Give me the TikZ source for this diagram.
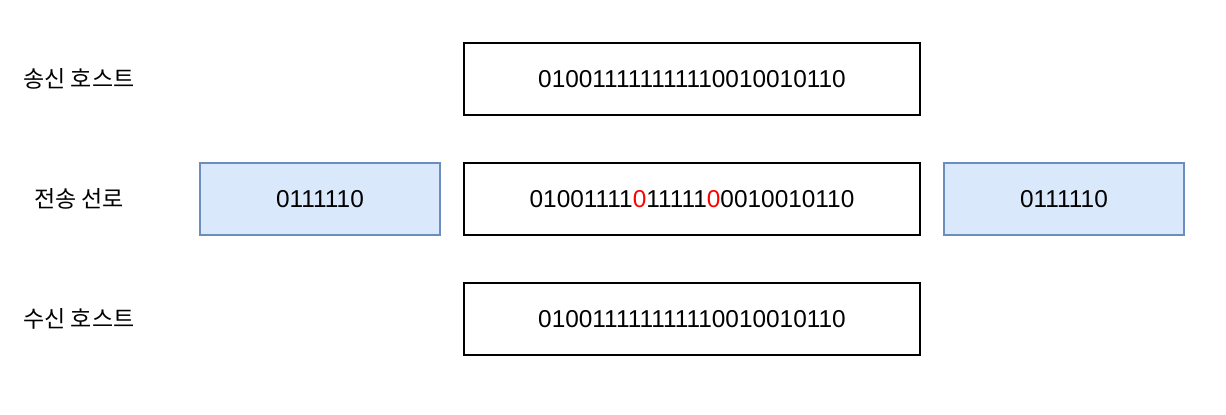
\documentclass[tikz,border=0pt]{standalone}
\usepackage{fontspec}
\setmainfont{Liberation Sans}
\newfontfamily\krfont{Noto Sans CJK KR}
\usepackage{xcolor}
\usetikzlibrary{positioning}
\definecolor{FlagFill}{HTML}{DAE8FC}
\definecolor{FlagLine}{HTML}{6C8EBF}
\definecolor{StuffRed}{HTML}{FF0000}
\newcommand{\stuffed}[1]{\textcolor{StuffRed}{#1}}
\tikzset{
    % Bit string box
    bits/.style={
        rectangle,
        draw=black,
        fill=white,
        line width=1pt,
        minimum width=228pt,
        minimum height=36pt,
        align=center,
        font=\fontsize{12.2}{14}\selectfont
    },
    % Flag box
    flag/.style={
        bits,
        draw=FlagLine,
        fill=FlagFill,
        minimum width=120pt
    },
    % Row label
    rowlabel/.style={
        font=\krfont\fontsize{11.5}{13}\selectfont
    }
}
\begin{document}
\begin{tikzpicture}[x=0.5pt, y=-0.5pt]
    \useasboundingbox (0,0) rectangle (1226,414);

    % Transmission line
    \node (line) [bits] at (692,199) {01001111\stuffed{0}11111\stuffed{0}0010010110};
    \node (flagl) [flag, left=11pt of line] {0111110};
    \node (flagr) [flag, right=11pt of line] {0111110};

    % Hosts
    \node (send) [bits, above=23pt of line] {010011111111110010010110};
    \node (recv) [bits, below=23pt of line] {010011111111110010010110};

    % Labels
    \node (sendlbl) [rowlabel] at (79,79) {송신 호스트};
    \node (linelbl) [rowlabel] at (79,199) {전송 선로};
    \node (recvlbl) [rowlabel] at (79,319) {수신 호스트};
\end{tikzpicture}
\end{document}
